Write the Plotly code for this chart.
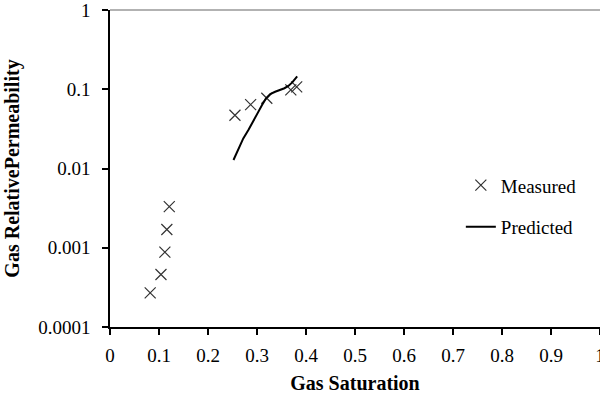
import plotly.graph_objects as go

measured_sat = [0.082, 0.104, 0.112, 0.116, 0.121, 0.255, 0.287, 0.320, 0.369, 0.381]
measured_krg = [0.00027, 0.00046, 0.00088, 0.0017, 0.0033, 0.047, 0.064, 0.077, 0.098, 0.107]

predicted_sat = [0.252, 0.262, 0.272, 0.283, 0.293, 0.302, 0.310, 0.318, 0.327, 0.337, 0.347, 0.356, 0.364, 0.372, 0.382]
predicted_krg = [0.0128, 0.0175, 0.024, 0.031, 0.041, 0.051, 0.063, 0.076, 0.087, 0.093, 0.098, 0.103, 0.110, 0.122, 0.145]

x_ticks = [0, 0.1, 0.2, 0.3, 0.4, 0.5, 0.6, 0.7, 0.8, 0.9, 1]
x_tick_labels = ["0", "0.1", "0.2", "0.3", "0.4", "0.5", "0.6", "0.7", "0.8", "0.9", "1"]
y_ticks = [0.0001, 0.001, 0.01, 0.1, 1]
y_tick_labels = ["0.0001", "0.001", "0.01", "0.1", "1"]

FONT = "Liberation Serif, Times New Roman, serif"

fig = go.Figure()
fig.add_trace(go.Scatter(
    x=measured_sat, y=measured_krg, mode="markers", name="Measured",
    legendgroup="m",
    marker=dict(symbol="x-thin-open", size=11, color="#333333",
                line=dict(width=1.2, color="#333333")),
))
fig.add_trace(go.Scatter(
    x=predicted_sat, y=predicted_krg, mode="lines", name="Predicted",
    legendgroup="p",
    line=dict(color="black", width=2),
))

fig.update_layout(
    width=600, height=395,
    margin=dict(l=110, r=0, t=10, b=68),
    paper_bgcolor="white", plot_bgcolor="white",
    font=dict(family=FONT, size=19, color="black"),
    showlegend=True,
    legend=dict(x=0.716, y=0.507, xanchor="left", yanchor="top",
                bgcolor="rgba(0,0,0,0)", font=dict(family=FONT, size=19),
                tracegroupgap=14, itemwidth=30),
    xaxis=dict(
        range=[0, 1], tickvals=x_ticks, ticktext=x_tick_labels,
        showgrid=False, zeroline=False, automargin=False,
        showline=True, linecolor="black", linewidth=1.5,
        ticks="outside", ticklen=6, tickcolor="black", tickwidth=1.5,
        tickfont=dict(family=FONT, size=19), ticklabelstandoff=4,
        ticklabeloverflow="allow",
        title=dict(text="<b>Gas Saturation</b>", font=dict(family=FONT, size=20), standoff=11),
    ),
    yaxis=dict(
        type="log", range=[-4, 0], tickvals=y_ticks, ticktext=y_tick_labels,
        showgrid=False, zeroline=False, automargin=False,
        showline=True, linecolor="black", linewidth=1.5,
        ticks="outside", ticklen=6, tickcolor="black", tickwidth=1.5,
        tickfont=dict(family=FONT, size=19), ticklabelstandoff=8,
        ticklabeloverflow="allow",
        title=dict(text="<b>Gas RelativePermeability</b>", font=dict(family=FONT, size=20), standoff=13),
    ),
)
fig.add_shape(type="line", xref="paper", yref="paper", x0=0, x1=1, y0=1, y1=1,
              line=dict(color="#999999", width=1.5))

fig.write_html("out.html", config={"displayModeBar": False},
               post_script="document.body.style.margin='0';")
